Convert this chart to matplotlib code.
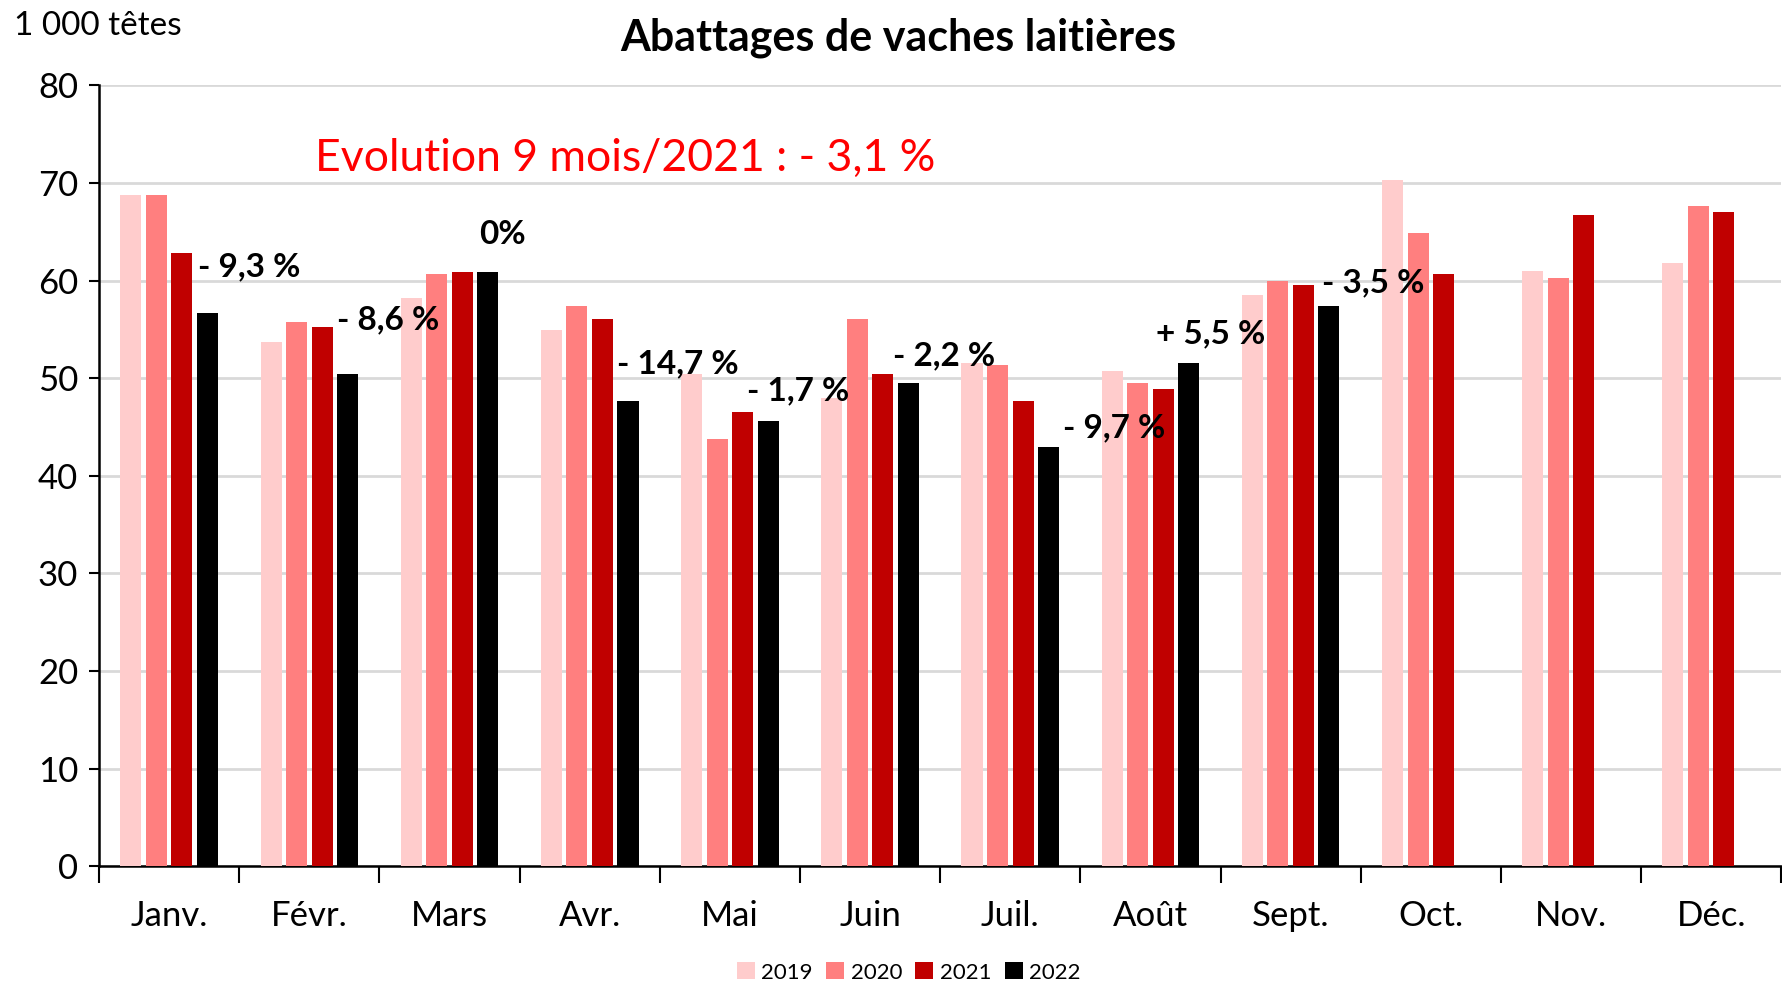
import numpy as np
import matplotlib
matplotlib.use("Agg")
import matplotlib.pyplot as plt

plt.rcParams['font.family'] = ['Lato', 'DejaVu Sans']

mois = ['Janv.', 'Févr.', 'Mars', 'Avr.', 'Mai', 'Juin', 'Juil.', 'Août', 'Sept.', 'Oct.', 'Nov.', 'Déc.']
annees = ['2019', '2020', '2021', '2022']

v2019 = [68.8, 53.7, 58.2, 54.9, 50.4, 48.0, 51.6, 50.7, 58.5, 70.3, 61.0, 61.8]
v2020 = [68.8, 55.8, 60.7, 57.4, 43.8, 56.1, 51.3, 49.5, 60.0, 64.9, 60.3, 67.6]
v2021 = [62.8, 55.2, 60.9, 56.1, 46.5, 50.4, 47.7, 48.9, 59.5, 60.7, 66.7, 67.0]
v2022 = [56.7, 50.4, 60.9, 47.7, 45.6, 49.5, 42.9, 51.6, 57.4]

evolutions = ['- 9,3 %', '- 8,6 %', '0%', '- 14,7 %', '- 1,7 %', '- 2,2 %', '- 9,7 %', '+ 5,5 %', '- 3,5 %']
# position of each label (x in month units, y in 1000 têtes)
evo_x = [0.57, 1.56, 2.38, 3.63, 4.49, 5.53, 6.74, 7.43, 8.59]
evo_y = [61.4, 56.0, 64.7, 51.5, 48.7, 52.3, 44.9, 54.5, 59.8]

couleurs = ['#FFCCCC', '#FF7F7F', '#C00000', '#000000']

fig = plt.figure(figsize=(17.82, 9.81), dpi=100)
ax = fig.add_axes([0.0556, 0.117, 0.944, 0.796])

x = np.arange(len(mois))
step = 0.182
width = 0.15
series = [v2019, v2020, v2021, v2022]
for k, (vals, c, lab) in enumerate(zip(series, couleurs, annees)):
    xs = x[:len(vals)] + (k - 1.5) * step
    ax.bar(xs, vals, width=width, color=c, label=lab, zorder=3)

for t, xx, yy in zip(evolutions, evo_x, evo_y):
    ax.text(xx, yy, t, ha='center', va='center', fontsize=24, fontweight='bold', zorder=4)

ax.text(3.25, 72.5, 'Evolution 9 mois/2021 : - 3,1 %', color='#FF0000', fontsize=32,
        ha='center', va='center')

ax.set_xlim(-0.5, 11.5)
ax.set_ylim(0, 80)
ax.set_yticks(range(0, 81, 10))
ax.tick_params(axis='y', labelsize=25, length=7, width=1.5, pad=8)
ax.set_xticks(x)
ax.set_xticklabels(mois, fontsize=25)
ax.set_xticks(np.arange(-0.5, 12, 1), minor=True)
ax.tick_params(axis='x', which='major', length=0, pad=24)
ax.tick_params(axis='x', which='minor', length=12, width=1.5)
ax.grid(axis='y', color='#D9D9D9', linewidth=2, zorder=0)
ax.spines['top'].set_visible(False)
ax.spines['right'].set_visible(False)
ax.spines['left'].set_linewidth(1.8)
ax.spines['bottom'].set_linewidth(1.8)

fig.text(0.504, 0.962, 'Abattages de vaches laitières', ha='center', va='center',
         fontsize=31, fontweight='bold')
fig.text(0.008, 0.973, '1 000 têtes', ha='left', va='center', fontsize=24)

fig.legend(loc='lower center', bbox_to_anchor=(0.51, -0.022), ncol=4, frameon=False,
           fontsize=16, handlelength=0.8, handleheight=0.8, handletextpad=0.3,
           columnspacing=0.6)

fig.savefig('out.png', dpi=100)
